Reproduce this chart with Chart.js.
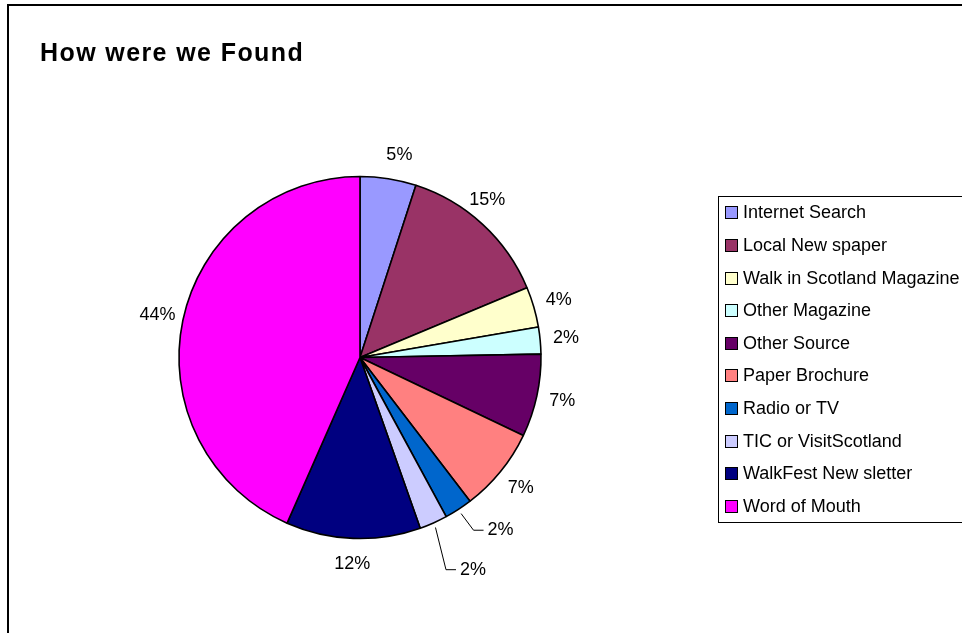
<!DOCTYPE html>
<html>
<head>
<meta charset="utf-8">
<title>How were we Found</title>
<script src="https://cdn.jsdelivr.net/npm/chart.js@4.4.1/dist/chart.umd.min.js"></script>
<style>
    html, body { margin: 0; padding: 0; background: #fff; overflow: hidden; }
    #wrap { position: relative; width: 962px; height: 633px; }
</style>
</head>
<body>
<div id="wrap"><canvas id="found-chart" width="962" height="633"></canvas></div>
<script>
// chart data (slice sizes from the drawn angles)
const categories = [
    "Internet Search",
    "Local New spaper",
    "Walk in Scotland Magazine",
    "Other Magazine",
    "Other Source",
    "Paper Brochure",
    "Radio or TV",
    "TIC or VisitScotland",
    "WalkFest New sletter",
    "Word of Mouth",
];
const shares = [5.0, 13.7, 3.6, 2.4, 7.4, 7.5, 2.5, 2.5, 12.0, 43.4];
// the percentages printed next to each slice
const shareLabels = ["5%", "15%", "4%", "2%", "7%", "7%", "2%", "2%", "12%", "44%"];

const sliceColours = [
    "#9999FF", "#993366", "#FFFFCC", "#CCFFFF", "#660066",
    "#FF8080", "#0066CC", "#CCCCFF", "#000080", "#FF00FF",
];

// labels Excel pushed away from the pie (true = gets a leader line)
const labelNudge = {
    "Internet Search": [7, 2, false],
    "Local New spaper": [-13, -5, false],
    "Radio or TV": [28, -1, true],
    "TIC or VisitScotland": [29, 23, true],
};

const FONT = '"Liberation Sans", Arial, sans-serif';
Chart.defaults.font.family = FONT;

const canvas = document.getElementById("found-chart");

// frame round the chart (runs off the right and bottom)
const framePlugin = {
    id: "frame",
    beforeDraw(chart) {
        const ctx = chart.ctx;
        ctx.save();
        ctx.fillStyle = "#fff";
        ctx.fillRect(0, 0, chart.width, chart.height);
        ctx.strokeStyle = "#000";
        ctx.lineWidth = 2;
        ctx.strokeRect(8, 5, chart.width + 50, chart.height + 50);
        ctx.restore();
        // the excel title is spaced out a bit
        ctx.letterSpacing = "1.4px";
    },
    beforeDatasetsDraw(chart) {
        chart.ctx.letterSpacing = "0px";
    },
};

// percentage labels outside each slice
const sliceLabelPlugin = {
    id: "sliceLabels",
    afterDatasetsDraw(chart) {
        const ctx = chart.ctx;
        const meta = chart.getDatasetMeta(0);
        ctx.save();
        ctx.font = "18px " + FONT;
        ctx.fillStyle = "#000";
        ctx.textAlign = "center";
        ctx.textBaseline = "middle";
        meta.data.forEach((arc, i) => {
            const p = arc.getProps(["x", "y", "startAngle", "endAngle", "outerRadius"], true);
            const mid = (p.startAngle + p.endAngle) / 2;
            let lx = p.x + Math.cos(mid) * (p.outerRadius + 26);
            let ly = p.y + Math.sin(mid) * (p.outerRadius + 26);
            const nudge = labelNudge[categories[i]];
            const txt = shareLabels[i];
            if (nudge) {
                lx += nudge[0];
                ly += nudge[1];
                if (nudge[2]) {
                    const w = ctx.measureText(txt).width;
                    const left = lx - w / 2;
                    ctx.beginPath();
                    ctx.strokeStyle = "#000";
                    ctx.lineWidth = 1;
                    ctx.moveTo(p.x + Math.cos(mid) * (p.outerRadius + 5), p.y + Math.sin(mid) * (p.outerRadius + 5));
                    ctx.lineTo(left - 14, ly);
                    ctx.lineTo(left - 4, ly);
                    ctx.stroke();
                }
            }
            ctx.fillText(txt, lx, ly);
        });
        ctx.restore();
    },
};

// boxed legend on the right, like the Excel one
const boxLegendPlugin = {
    id: "boxLegend",
    afterDraw(chart) {
        const ctx = chart.ctx;
        const ds = chart.data.datasets[0];
        const left = 718, top = 196, bottom = 522;
        const rowH = (bottom - top) / chart.data.labels.length;
        ctx.save();
        ctx.strokeStyle = "#000";
        ctx.lineWidth = 1;
        ctx.strokeRect(left + 0.5, top + 0.5, chart.width, bottom - top);
        ctx.font = "18px " + FONT;
        ctx.textBaseline = "middle";
        ctx.textAlign = "left";
        chart.data.labels.forEach((label, i) => {
            const cy = Math.round(top + rowH * (i + 0.5));
            ctx.fillStyle = ds.backgroundColor[i];
            ctx.fillRect(left + 7, cy - 6, 13, 13);
            ctx.strokeRect(left + 7.5, cy - 5.5, 12, 12);
            ctx.fillStyle = "#000";
            ctx.fillText(label, left + 25, cy + 1);
        });
        ctx.restore();
    },
};

new Chart(canvas, {
    type: "pie",
    data: {
        labels: categories,
        datasets: [
            {
                data: shares,
                backgroundColor: sliceColours,
                borderColor: "#000",
                borderWidth: 1.6,
                radius: 181,
                hoverOffset: 0,
            },
        ],
    },
    options: {
        responsive: false,
        devicePixelRatio: 1,
        animation: false,
        events: [],
        layout: {
            padding: { left: 40, right: 282, top: 39, bottom: 18 },
        },
        plugins: {
            legend: { display: false },
            tooltip: { enabled: false },
            title: {
                display: true,
                text: "How were we Found",
                align: "start",
                color: "#000",
                font: { size: 25, weight: "bold", family: FONT },
                padding: { top: 0, bottom: 31 },
            },
        },
    },
    plugins: [framePlugin, sliceLabelPlugin, boxLegendPlugin],
});
</script>
</body>
</html>
